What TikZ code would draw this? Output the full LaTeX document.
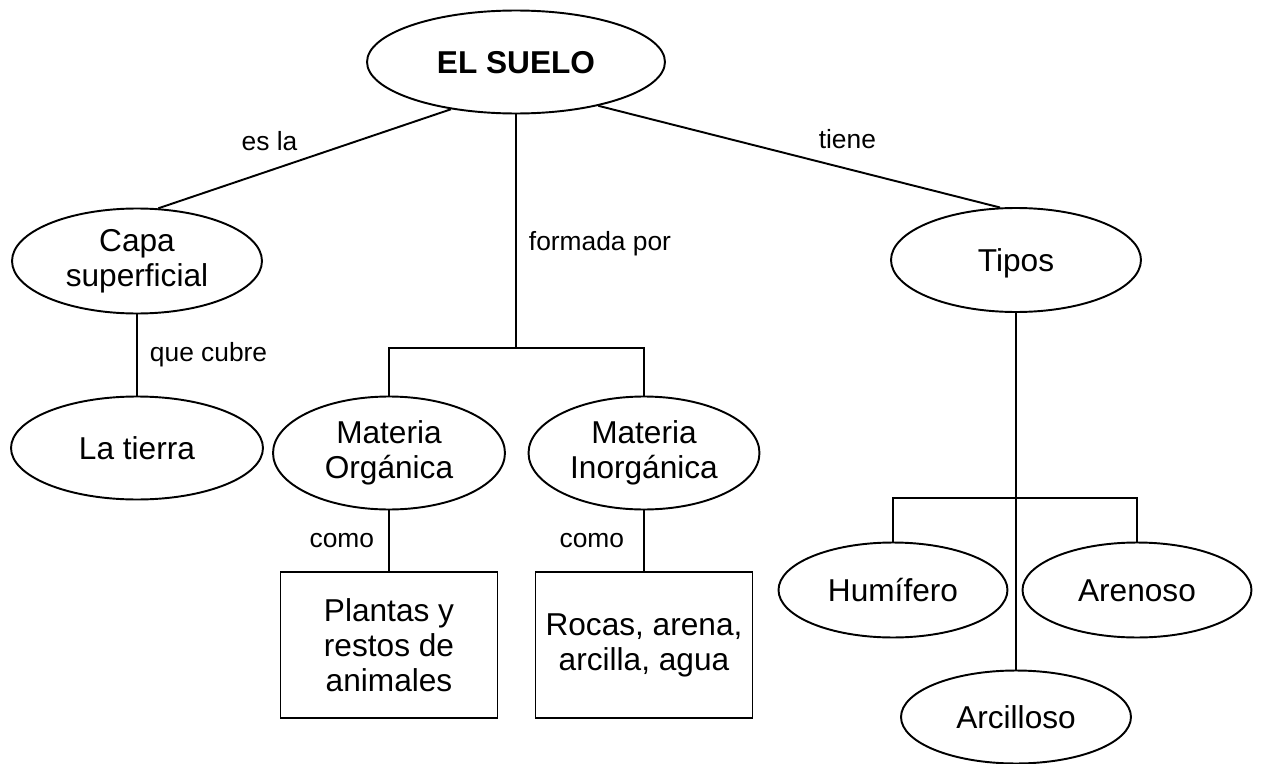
\documentclass[tikz,border=0pt]{standalone}
\usepackage{fontspec}
\setmainfont{Liberation Sans}
\usetikzlibrary{shapes.geometric}

\begin{document}
\begin{tikzpicture}[x=0.02cm,y=-0.02cm,line width=1.1pt,
  concept/.style={ellipse,draw,inner sep=0pt,align=center,font=\fontsize{18}{20}\selectfont},
  oneword/.style={concept,text height=13pt,text depth=0pt},
  examplebox/.style={rectangle,draw,inner sep=0pt,align=center,minimum width=4.34cm,minimum height=2.92cm,font=\fontsize{18}{20}\selectfont},
  linkword/.style={inner sep=0pt,font=\fontsize{15}{17}\selectfont}]
\useasboundingbox (0,0) rectangle (1262,764);
% top
\node[oneword,minimum width=5.96cm,minimum height=2.06cm,font=\fontsize{18}{20}\selectfont\bfseries] (suelo) at (516,62) {EL SUELO};
% left branch
\node[concept,minimum width=5cm,minimum height=2.1cm] (capa) at (137,261) {Capa\\superficial};
\node[oneword,minimum width=5.04cm,minimum height=2.06cm] (tierra) at (137,448) {La tierra};
% middle branch
\coordinate (fork1) at (516,348);
\node[concept,minimum width=4.64cm,minimum height=2.26cm] (organica) at (389,453) {Materia\\Orgánica};
\node[concept,minimum width=4.62cm,minimum height=2.26cm] (inorganica) at (644,453) {Materia\\Inorgánica};
\node[examplebox] (plantas) at (389,645) {Plantas y\\restos de\\animales};
\node[examplebox] (rocas) at (644,645) {Rocas, arena,\\arcilla, agua};
% right branch
\node[oneword,minimum width=5cm,minimum height=2.08cm] (tipos) at (1016,260) {Tipos};
\coordinate (fork2) at (1016,498);
\node[oneword,minimum width=4.58cm,minimum height=1.9cm] (humifero) at (893,590) {Humífero};
\node[oneword,minimum width=4.58cm,minimum height=1.9cm] (arenoso) at (1137,590) {Arenoso};
\node[oneword,minimum width=4.6cm,minimum height=1.86cm] (arcilloso) at (1016,717) {Arcilloso};

% connectors
\draw (suelo.216) -- node[linkword,pos=0.62,above=11pt] {es la} (capa.68);
\draw (suelo.-28) -- node[linkword,pos=0.62,above=11pt] {tiene} (tipos.107);
\draw (suelo.south) -- node[linkword,pos=0.553,right=0.24cm] {formada por} (fork1);
\draw (organica.north) |- (fork1) -| (inorganica.north);
\draw (capa) -- node[linkword,right=0.24cm] {que cubre} (tierra);
\draw (organica) -- node[linkword,left=0.28cm] {como} (plantas);
\draw (inorganica) -- node[linkword,left=0.38cm] {como} (rocas);
\draw (tipos.south) -- (arcilloso.north);
\draw (humifero.north) |- (fork2) -| (arenoso.north);
\end{tikzpicture}
\end{document}
